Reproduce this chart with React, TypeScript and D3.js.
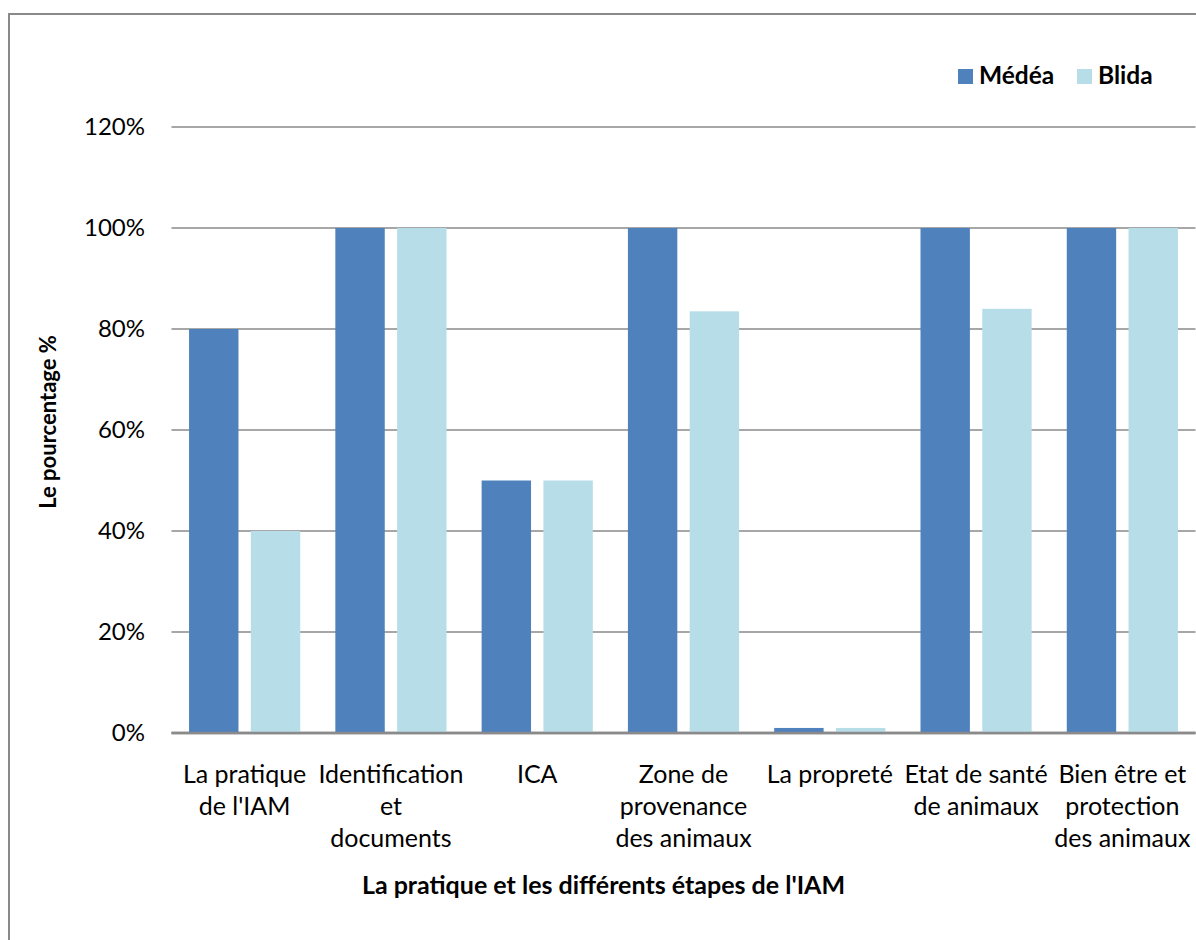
import React from "react";
import * as d3 from "d3";

const categories: string[][] = [
  ["La pratique", "de l'IAM"],
  ["Identification", "et", "documents"],
  ["ICA"],
  ["Zone de", "provenance", "des animaux"],
  ["La propreté"],
  ["Etat de santé", "de animaux"],
  ["Bien être et", "protection", "des animaux"],
];
const seriesNames = ["Médéa", "Blida"];
const medea = [80, 100, 50, 100, 1, 100, 100];
const blida = [40, 100, 50, 83.5, 1, 84, 100];
const yTicks = [0, 20, 40, 60, 80, 100, 120];
const colors = ["#4F81BD", "#B7DEE8"];
const xTitle = "La pratique et les différents étapes de l'IAM";
const yTitle = "Le pourcentage %";

const FONT = "Lato, 'Liberation Sans', sans-serif";

export default function App() {
  const W = 1196, H = 940;
  const left = 171.5, right = 1195.5, top = 127, bottom = 733;
  const keys = categories.map((_, i) => String(i));
  const x0 = d3.scaleBand<string>().domain(keys).range([left, right]).padding(0);
  const cw = x0.bandwidth();
  const x1 = d3.scaleBand<string>().domain(seriesNames).range([cw * 0.12, cw * 0.88]).paddingInner(0.2);
  const y = d3.scaleLinear().domain([0, 120]).range([bottom, top]);
  const values = [medea, blida];

  return (
    <svg width={W} height={H} style={{ position: "absolute", left: 0, top: 0, background: "#fff" }} fontFamily={FONT}>
      <rect x={9} y={14} width={W + 20} height={H + 20} fill="#fff" stroke="#898989" strokeWidth={2} />
      {yTicks.map((t) => (
        <g key={t}>
          <line x1={left} x2={right} y1={y(t)} y2={y(t)} stroke="#8a8a8a" strokeWidth={t === 0 ? 2.5 : 1.5} />
          <text x={145} y={y(t)} dy="0.35em" textAnchor="end" fontSize={24} fill="#000">
            {t}%
          </text>
        </g>
      ))}
      {keys.map((k, i) => (
        <g key={k} transform={`translate(${x0(k)},0)`}>
          {seriesNames.map((s, j) => (
            <rect key={s} x={x1(s)} y={y(values[j][i])} width={x1.bandwidth()} height={bottom - y(values[j][i])} fill={colors[j]} />
          ))}
          <text x={cw / 2} y={783} textAnchor="middle" fontSize={25} fill="#000">
            {categories[i].map((line, li) => (
              <tspan key={li} x={cw / 2} dy={li === 0 ? 0 : 32}>
                {line}
              </tspan>
            ))}
          </text>
        </g>
      ))}
      <line x1={left} x2={right} y1={bottom} y2={bottom} stroke="#8a8a8a" strokeWidth={2.5} />
      <text x={603.5} y={894} textAnchor="middle" fontSize={25} fontWeight="bold" fill="#000">
        {xTitle}
      </text>
      <text transform={`translate(56,422) rotate(-90)`} textAnchor="middle" fontSize={22} fontWeight="bold" fill="#000">
        {yTitle}
      </text>
      {seriesNames.map((s, j) => {
        const lx = [958, 1077][j];
        return (
          <g key={s}>
            <rect x={lx} y={69} width={15} height={15} fill={colors[j]} />
            <text x={lx + 21} y={84} fontSize={24.5} fontWeight="bold" fill="#000">
              {s}
            </text>
          </g>
        );
      })}
    </svg>
  );
}
